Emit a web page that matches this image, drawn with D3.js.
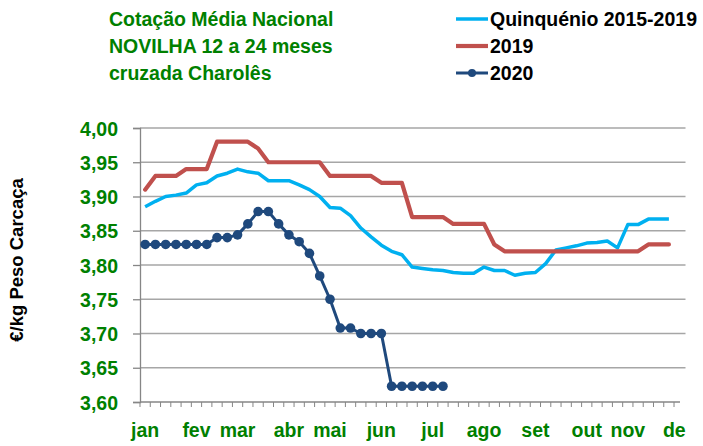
<!DOCTYPE html>
<html><head><meta charset="utf-8">
<script src="https://cdn.jsdelivr.net/npm/d3@7"></script>
<style>body{margin:0;background:#fff}svg{display:block}</style>
</head><body><svg id="c" width="703" height="446"></svg>
<script>
// ---- data ----
const weeks = d3.range(53); // category slots (weeks)
const quinquenio = [3.885,3.893,3.900,3.902,3.905,3.917,3.920,3.930,3.934,3.940,3.936,3.934,3.923,3.923,3.923,3.917,3.910,3.900,3.884,3.883,3.872,3.854,3.841,3.829,3.820,3.815,3.797,3.795,3.793,3.792,3.789,3.788,3.788,3.797,3.792,3.792,3.785,3.788,3.789,3.802,3.822,3.825,3.828,3.832,3.833,3.835,3.825,3.859,3.859,3.867,3.867,3.867];
const y2019 = [3.91,3.93,3.93,3.93,3.94,3.94,3.94,3.98,3.98,3.98,3.98,3.97,3.95,3.95,3.95,3.95,3.95,3.95,3.93,3.93,3.93,3.93,3.93,3.92,3.92,3.92,3.87,3.87,3.87,3.87,3.86,3.86,3.86,3.86,3.83,3.82,3.82,3.82,3.82,3.82,3.82,3.82,3.82,3.82,3.82,3.82,3.82,3.82,3.82,3.83,3.83,3.83];
const y2020 = [3.83,3.83,3.83,3.83,3.83,3.83,3.83,3.84,3.84,3.844,3.86,3.878,3.878,3.86,3.844,3.834,3.817,3.784,3.75,3.708,3.708,3.70,3.70,3.70,3.623,3.623,3.623,3.623,3.623,3.623];
const monthLabels = ["jan","fev","mar","abr","mai","jun","jul","ago","set","out","nov","dez"];
const monthWeeks = [0,5,9,14,18,23,28,33,38,43,47,52];
const yTicks = [3.60,3.65,3.70,3.75,3.80,3.85,3.90,3.95,4.00];
const titleLines = ["Cotação Média Nacional","NOVILHA 12 a 24 meses","cruzada Charolês"];
const seriesNames = ["Quinquénio 2015-2019","2019","2020"];
const seriesColors = ["#00b0f0","#c0504d","#1f497d"];

// ---- chart ----
const svg = d3.select("#c");
const FONT = "'Liberation Sans', Arial, sans-serif";
const GREEN = "#008000";
const pLeft = 140, pRight = 684.3, pTop = 128, pBottom = 402;
const x = d3.scaleBand().domain(weeks).range([pLeft, pRight]);
const y = d3.scaleLinear().domain([3.60, 4.00]).range([pBottom, pTop]);
const cx = i => x(i) + x.bandwidth()/2;

// gridlines
svg.append("g").selectAll("line").data(yTicks.slice(1)).join("line")
  .attr("x1", pLeft).attr("x2", 685.5)
  .attr("y1", d => y(d)).attr("y2", d => y(d))
  .attr("stroke", "#a6a6a6").attr("stroke-width", 1.3);

// y axis
const yAxis = d3.axisLeft(y).tickValues(yTicks).tickSize(7)
  .tickFormat(d => d3.format(".2f")(d).replace(".", ","));
const gy = svg.append("g").attr("transform", `translate(${pLeft},0)`).call(yAxis);
gy.select(".domain").attr("stroke", "#868686").attr("stroke-width", 1.3);
gy.selectAll(".tick line").attr("stroke", "#868686").attr("stroke-width", 1.3);
gy.selectAll(".tick text").attr("x", -22).attr("dy", "0.36em")
  .attr("fill", GREEN).style("font", `bold 19.5px ${FONT}`);

// x axis (weekly ticks at band boundaries)
const gx = svg.append("g");
gx.append("line").attr("x1", pLeft).attr("x2", 680).attr("y1", pBottom).attr("y2", pBottom)
  .attr("stroke", "#868686").attr("stroke-width", 1.3);
gx.selectAll("line.t").data(d3.range(53)).join("line").attr("class", "t")
  .attr("x1", d => x(d)).attr("x2", d => x(d))
  .attr("y1", pBottom).attr("y2", pBottom + 5)
  .attr("stroke", "#868686").attr("stroke-width", 1);
svg.append("clipPath").attr("id", "xclip").append("rect")
  .attr("x", 0).attr("y", 400).attr("width", 686).attr("height", 46);
svg.append("g").attr("clip-path", "url(#xclip)")
  .selectAll("text").data(monthLabels).join("text")
  .attr("x", (d, i) => cx(monthWeeks[i])).attr("y", 437)
  .attr("text-anchor", "middle").attr("fill", GREEN)
  .style("font", `bold 19.5px ${FONT}`).text(d => d);

// y-axis title
svg.append("text").attr("transform", "translate(23,260) rotate(-90)")
  .attr("text-anchor", "middle").attr("fill", "#000")
  .style("font", `bold 18.5px ${FONT}`).text("€/kg Peso Carcaça");

// lines
const line = d3.line().x((d, i) => cx(i)).y(d => y(d));
svg.append("path").datum(quinquenio).attr("d", line).attr("fill", "none")
  .attr("stroke", seriesColors[0]).attr("stroke-width", 3.5).attr("stroke-linejoin", "round");
svg.append("path").datum(y2019).attr("d", line).attr("fill", "none")
  .attr("stroke", seriesColors[1]).attr("stroke-width", 4.2).attr("stroke-linejoin", "round").attr("stroke-linecap", "round");
svg.append("path").datum(y2020).attr("d", line).attr("fill", "none")
  .attr("stroke", seriesColors[2]).attr("stroke-width", 3).attr("stroke-linejoin", "round");
svg.append("g").selectAll("circle").data(y2020).join("circle")
  .attr("cx", (d, i) => cx(i)).attr("cy", d => y(d)).attr("r", 4.8)
  .attr("fill", seriesColors[2]);

// title
svg.append("g").selectAll("text").data(titleLines).join("text")
  .attr("x", 109).attr("y", (d, i) => 26 + i * 27)
  .attr("fill", GREEN).style("font", `bold 19.5px ${FONT}`).text(d => d);

// legend
const lg = svg.append("g").selectAll("g").data(seriesNames).join("g")
  .attr("transform", (d, i) => `translate(0,${19 + i * 27})`);
lg.append("line").attr("x1", 456).attr("x2", 488).attr("y1", 0).attr("y2", 0)
  .attr("stroke", (d, i) => seriesColors[i]).attr("stroke-width", (d, i) => [3.5, 4.2, 3][i]);
lg.filter((d, i) => i === 2).append("circle").attr("cx", 472).attr("cy", 0).attr("r", 4)
  .attr("fill", seriesColors[2]);
lg.append("text").attr("x", 490).attr("y", 7).attr("fill", "#000")
  .style("font", `bold 19.5px ${FONT}`).text(d => d);
</script></body></html>
